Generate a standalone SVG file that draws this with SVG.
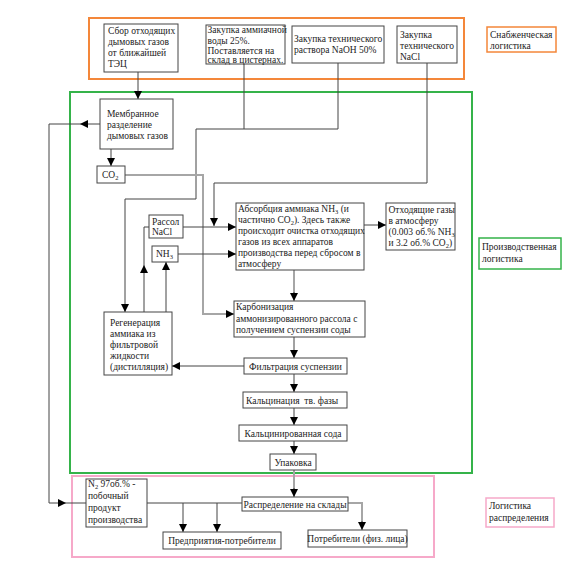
<svg xmlns="http://www.w3.org/2000/svg" width="567" height="562" viewBox="0 0 567 562">
<style>
.b{fill:#fff;stroke:#444;stroke-width:1}
.t{font-family:"Liberation Serif","Times New Roman",serif;font-size:9.5px;fill:#222}
.c{fill:none;stroke:#444;stroke-width:1}
.g{fill:none;stroke:#a6a6a6;stroke-width:2}
.s{font-size:6.5px}
</style>
<defs>
<marker id="a" markerUnits="userSpaceOnUse" markerWidth="8" markerHeight="8" refX="8" refY="4" orient="auto"><path d="M0,0 L8,4 L0,8 z" fill="#000"/></marker>
</defs>
<rect width="567" height="562" fill="#fff"/>
<g id="zones">
<rect x="89" y="18" width="375" height="61" fill="none" stroke="#f4873a" stroke-width="2"/>
<rect x="70" y="92" width="402" height="381" fill="none" stroke="#35b34a" stroke-width="2"/>
<rect x="72" y="476" width="362" height="81" fill="none" stroke="#f6a9c9" stroke-width="2"/>
</g>
<g id="connectors">
<path class="c" d="M138,72 V99" marker-end="url(#a)"/>
<path class="c" d="M244,64 V129 M338,63 V129 H196 V199 H125 V312" marker-end="url(#a)"/>
<path class="c" d="M427,63 V183 H214 V226" marker-end="url(#a)"/>
<path class="g" d="M125,175 H203 V314 H226"/>
<path class="c" d="M226,314 H234" marker-end="url(#a)"/>
<path class="c" d="M111,149 V166" marker-end="url(#a)"/>
<path class="c" d="M183,227 H236" marker-end="url(#a)"/>
<path class="c" d="M178,254 H236" marker-end="url(#a)"/>
<path class="c" d="M144,312 V265" marker-end="url(#a)"/>
<path class="c" d="M144,265 V227 H149"/>
<path class="c" d="M166,312 V262" marker-end="url(#a)"/>
<path class="c" d="M364,225 H386" marker-end="url(#a)"/>
<path class="g" d="M294,270 V293"/>
<path class="c" d="M294,292 V301" marker-end="url(#a)"/>
<path class="c" d="M294,337 V358" marker-end="url(#a)"/>
<path class="c" d="M244,366 H172" marker-end="url(#a)"/>
<path class="c" d="M294,374 V392" marker-end="url(#a)"/>
<path class="c" d="M294,408 V425" marker-end="url(#a)"/>
<path class="c" d="M294,441 V454" marker-end="url(#a)"/>
<path class="g" d="M294,470 V489"/>
<path class="c" d="M294,488 V497" marker-end="url(#a)"/>
<path class="c" d="M100,124 H80" marker-end="url(#a)"/>
<path class="c" d="M80,124 H49 V503 H58"/>
<path class="c" d="M58,503 H66" marker-end="url(#a)"/>
<path class="c" d="M66,503 H86"/>
<path class="c" d="M147,503 H242"/>
<path class="c" d="M183,503 V532" marker-end="url(#a)"/>
<path class="c" d="M217,503 V532" marker-end="url(#a)"/>
<path class="g" d="M348,503 H362 V522"/>
<path class="c" d="M362,521 V530" marker-end="url(#a)"/>
</g>
<g id="n_sbor"><rect class="b" x="104" y="24" width="74" height="48"/>
<text class="t"><tspan x="108" y="33.5">Сбор отходящих</tspan><tspan x="108" y="44.5">дымовых газов</tspan><tspan x="108" y="55.5">от ближайшей</tspan><tspan x="108" y="66.5">ТЭЦ</tspan></text></g>
<g id="n_amm"><rect class="b" x="206" y="25" width="79" height="39"/>
<text class="t"><tspan x="207.5" y="33">Закупка аммиачной</tspan><tspan x="207.5" y="43.5">воды 25%.</tspan><tspan x="207.5" y="54">Поставляется на</tspan><tspan x="207.5" y="62.5">склад в цистернах.</tspan></text></g>
<g id="n_naoh"><rect class="b" x="292" y="26" width="92" height="37"/>
<text class="t"><tspan x="294" y="42">Закупка технического</tspan><tspan x="294" y="53">раствора NaOH 50%</tspan></text></g>
<g id="n_nacl"><rect class="b" x="397" y="26" width="60" height="37"/>
<text class="t"><tspan x="400" y="38">Закупка</tspan><tspan x="400" y="49">технического</tspan><tspan x="400" y="60">NaCl</tspan></text></g>
<g id="l_snab"><rect x="487" y="27" width="69" height="25" fill="#fff" stroke="#f4873a" stroke-width="1.5"/>
<text class="t"><tspan x="490" y="38">Снабженческая</tspan><tspan x="490" y="48.5">логистика</tspan></text></g>
<g id="n_membr"><rect class="b" x="100" y="99" width="73" height="50"/>
<text class="t"><tspan x="107" y="117">Мембранное</tspan><tspan x="107" y="128">разделение</tspan><tspan x="107" y="139">дымовых газов</tspan></text></g>
<g id="n_co2"><rect class="b" x="97" y="166" width="28" height="17"/>
<text class="t" x="102" y="178">CO<tspan class="s" dy="1.5">2</tspan></text></g>
<g id="n_rassol"><rect class="b" x="149" y="215" width="34" height="23"/>
<text class="t"><tspan x="152" y="225">Рассол</tspan><tspan x="152" y="235">NaCl</tspan></text></g>
<g id="n_nh3"><rect class="b" x="152" y="246" width="26" height="16"/>
<text class="t" x="156" y="257">NH<tspan class="s" dy="1.5">3</tspan></text></g>
<g id="n_abs"><rect class="b" x="236" y="203" width="128" height="67"/>
<text class="t"><tspan x="238" y="212">Абсорбция аммиака NH<tspan class="s" dy="1.5">3</tspan><tspan dy="-1.5"> (и</tspan></tspan><tspan x="238" y="223">частично CO<tspan class="s" dy="1.5">2</tspan><tspan dy="-1.5">). Здесь также</tspan></tspan><tspan x="238" y="234">происходит очистка отходящих</tspan><tspan x="238" y="245">газов из всех аппаратов</tspan><tspan x="238" y="256">производства перед сбросом в</tspan><tspan x="238" y="267">атмосферу</tspan></text></g>
<g id="n_otx"><rect class="b" x="386" y="203" width="69" height="47"/>
<text class="t"><tspan x="388.5" y="213">Отходящие газы</tspan><tspan x="388.5" y="224">в атмосферу</tspan><tspan x="388.5" y="235">(0.003 об.% NH<tspan class="s" dy="1.5">3</tspan></tspan><tspan x="388.5" y="246">и 3.2 об.% CO<tspan class="s" dy="1.5">2</tspan><tspan dy="-1.5">)</tspan></tspan></text></g>
<g id="l_proizv"><rect x="479" y="238" width="82" height="31" fill="#fff" stroke="#35b34a" stroke-width="1.5"/>
<text class="t"><tspan x="482" y="250">Производственная</tspan><tspan x="482" y="261.5">логистика</tspan></text></g>
<g id="n_karb"><rect class="b" x="234" y="301" width="131" height="36"/>
<text class="t"><tspan x="236" y="310">Карбонизация</tspan><tspan x="236" y="321.5">аммонизированного рассола с</tspan><tspan x="236" y="333">получением суспензии соды</tspan></text></g>
<g id="n_regen"><rect class="b" x="104" y="312" width="68" height="63"/>
<text class="t"><tspan x="110" y="326">Регенерация</tspan><tspan x="110" y="337">аммиака из</tspan><tspan x="110" y="348">фильтровой</tspan><tspan x="110" y="359">жидкости</tspan><tspan x="110" y="370">(дистилляция)</tspan></text></g>
<g id="n_filtr"><rect class="b" x="244" y="358" width="103" height="16"/>
<text class="t" x="295.5" y="369.5" text-anchor="middle">Фильтрация суспензии</text></g>
<g id="n_kalc"><rect class="b" x="243" y="392" width="104" height="16"/>
<text class="t" x="246" y="403.5" xml:space="preserve">Кальцинация  тв. фазы</text></g>
<g id="n_soda"><rect class="b" x="239" y="425" width="108" height="16"/>
<text class="t" x="293" y="436.5" text-anchor="middle">Кальцинированная сода</text></g>
<g id="n_upak"><rect class="b" x="270" y="454" width="46" height="16"/>
<text class="t" x="293" y="465.5" text-anchor="middle">Упаковка</text></g>
<g id="n_n2"><rect class="b" x="86" y="479" width="61" height="48"/>
<text class="t"><tspan x="88" y="487">N<tspan class="s" dy="1.5">2</tspan><tspan dy="-1.5"> 97об.% -</tspan></tspan><tspan x="88" y="499">побочный</tspan><tspan x="88" y="511">продукт</tspan><tspan x="88" y="523">производства</tspan></text></g>
<g id="n_raspr"><rect class="b" x="242" y="497" width="106" height="14"/>
<text class="t" x="295" y="507.5" text-anchor="middle">Распределение на склады</text></g>
<g id="n_predpr"><rect class="b" x="163" y="532" width="118" height="17"/>
<text class="t" x="222" y="544" text-anchor="middle">Предприятия-потребители</text></g>
<g id="n_potr"><rect class="b" x="308" y="530" width="99" height="17"/>
<text class="t" x="357.5" y="542" text-anchor="middle">Потребители (физ. лица)</text></g>
<g id="l_raspr"><rect x="486" y="498" width="68" height="29" fill="#fff" stroke="#f6a9c9" stroke-width="1.5"/>
<text class="t"><tspan x="489" y="509">Логистика</tspan><tspan x="489" y="520.5">распределения</tspan></text></g>
</svg>
